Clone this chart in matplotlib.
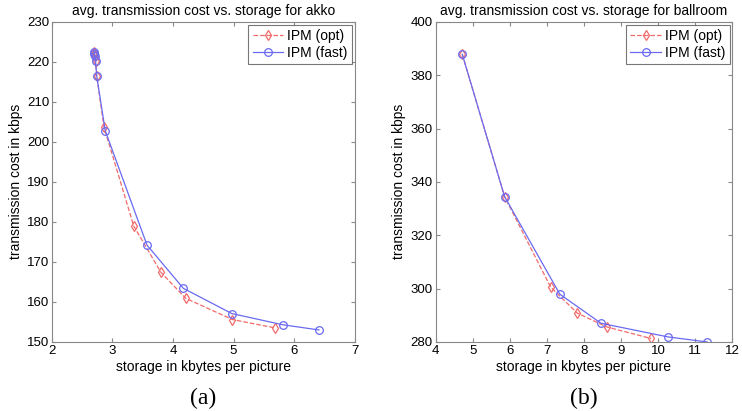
import matplotlib
matplotlib.use('Agg')
import matplotlib.pyplot as plt

# akko data
akko_opt_x = [2.70, 2.70, 2.71, 2.72, 2.74, 2.86, 3.35, 3.80, 4.21, 4.98, 5.69]
akko_opt_y = [222.5, 222.0, 221.4, 220.1, 216.4, 203.7, 179.0, 167.4, 160.9, 155.6, 153.5]
akko_fast_x = [2.70, 2.70, 2.71, 2.72, 2.74, 2.88, 3.57, 4.17, 4.97, 5.81, 6.41]
akko_fast_y = [222.5, 222.0, 221.4, 220.1, 216.4, 202.8, 174.2, 163.4, 157.1, 154.3, 153.0]

# ballroom data
ball_opt_x = [4.72, 5.86, 7.10, 7.82, 8.62, 9.81]
ball_opt_y = [387.8, 334.5, 300.6, 290.8, 285.6, 281.3]
ball_fast_x = [4.72, 5.86, 7.35, 8.46, 10.26, 11.32]
ball_fast_y = [387.8, 334.5, 297.9, 287.0, 281.9, 280.0]

plt.rcParams['font.family'] = ['Liberation Sans', 'DejaVu Sans']

fig = plt.figure(figsize=(7.42, 4.11), dpi=100)
ax1 = fig.add_axes([0.070, 0.168, 0.408, 0.779])
ax2 = fig.add_axes([0.587, 0.168, 0.400, 0.779])

red = '#f26a6a'
blue = '#6a6af2'


def draw(ax, ox, oy, fx, fy, title, xlim, xticks, ylim, yticks, tag):
    ax.plot(ox, oy, '--', color=red, marker='d', mfc='none', ms=5.5, mew=0.9, lw=0.9, label='IPM (opt)')
    ax.plot(fx, fy, '-', color=blue, marker='o', mfc='none', ms=5.5, mew=0.9, lw=0.9, label='IPM (fast)')
    ax.set_xlim(*xlim)
    ax.set_ylim(*ylim)
    ax.set_xticks(xticks)
    ax.set_yticks(yticks)
    ax.tick_params(direction='in', top=True, right=True, labelsize=9.5, length=3, color='#888888', pad=2)
    for s in ax.spines.values():
        s.set_color('#888888')
        s.set_linewidth(0.8)
    ax.set_title(title, fontsize=10, pad=5)
    ax.set_xlabel('storage in kbytes per picture', fontsize=10, labelpad=2)
    ax.set_ylabel('transmission cost in kbps', fontsize=10, labelpad=3)
    leg = ax.legend(loc='upper right', fontsize=10, frameon=True, fancybox=False,
                    handlelength=2.2, handletextpad=0.3, borderpad=0.3, labelspacing=0.2,
                    borderaxespad=0.2)
    leg.get_frame().set_edgecolor('#555555')
    leg.get_frame().set_linewidth(0.8)
    ax.text(0.5, -0.175, tag, transform=ax.transAxes, ha='center', va='center',
            fontsize=17, family='Liberation Serif')


draw(ax1, akko_opt_x, akko_opt_y, akko_fast_x, akko_fast_y,
     'avg. transmission cost vs. storage for akko',
     (2, 7), range(2, 8), (150, 230), range(150, 231, 10), '(a)')
draw(ax2, ball_opt_x, ball_opt_y, ball_fast_x, ball_fast_y,
     'avg. transmission cost vs. storage for ballroom',
     (4, 12), range(4, 13), (280, 400), range(280, 401, 20), '(b)')

fig.savefig('out.png', dpi=100)
